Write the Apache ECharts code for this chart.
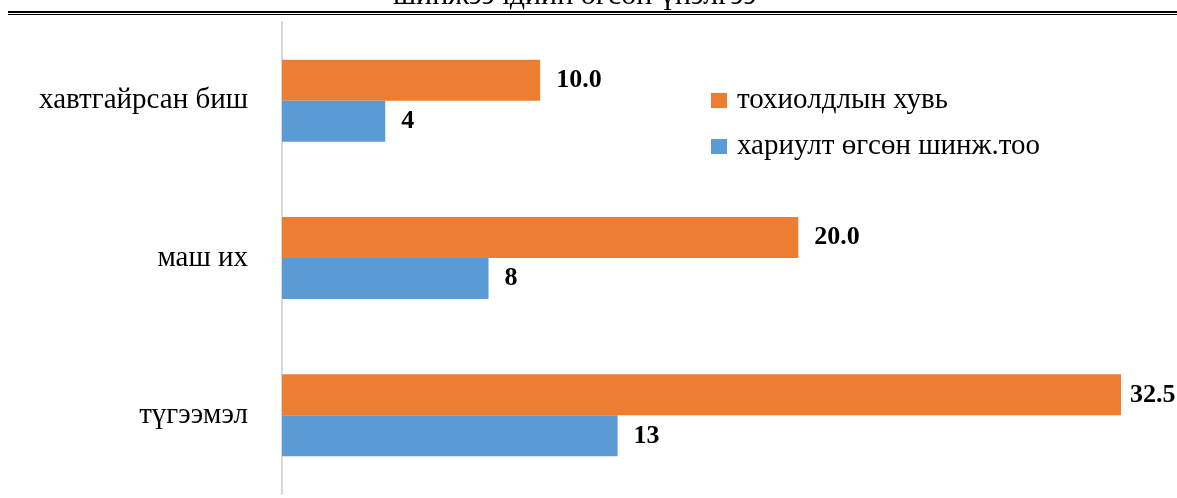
<!DOCTYPE html>
<html>
<head>
<meta charset="utf-8">
<script src="https://cdn.jsdelivr.net/npm/echarts@6/dist/echarts.min.js"></script>
<style>html,body{margin:0;padding:0;background:#fff}#c{width:1177px;height:498px}</style>
</head>
<body>
<div id="c"></div>
<script>
const categories = ['түгээмэл', 'маш их', 'хавтгайрсан биш'];
const seriesNames = ['тохиолдлын хувь', 'хариулт өгсөн шинж.тоо'];
const percentValues = [32.5, 20.0, 10.0];
const countValues = [13, 8, 4];
const titleText = 'шинжээчдийн өгсөн үнэлгээ';

const FONT = '"Liberation Serif", serif';
const chart = echarts.init(document.getElementById('c'), null, {renderer: 'canvas'});
const maxPct = Math.max.apply(null, percentValues);
chart.setOption({
  animation: false,
  backgroundColor: '#fff',
  grid: {left: 282, right: 56, top: 22, bottom: 4, containLabel: false},
  xAxis: {type: 'value', min: 0, max: 32.5, show: false},
  yAxis: {
    type: 'category', data: categories,
    axisLine: {show: true, lineStyle: {color: '#d9d9d9', width: 2}},
    axisTick: {show: false},
    axisLabel: {fontFamily: FONT, fontSize: 29, color: '#000', margin: 34, padding: [5, 0, 0, 0]}
  },
  legend: {
    orient: 'vertical', left: 711, top: 86, padding: 0,
    data: seriesNames,
    icon: 'rect', itemWidth: 16, itemHeight: 15, itemGap: 17,
    textStyle: {fontFamily: FONT, fontSize: 29, color: '#000', padding: [0, 0, 0, 5]}
  },
  graphic: [
    {type: 'rect', shape: {x: 8, y: 11, width: 1169, height: 2}, style: {fill: '#000'}, silent: true},
    {type: 'rect', shape: {x: 8, y: 14, width: 1169, height: 1}, style: {fill: '#000'}, silent: true},
    {type: 'text', x: 393, y: 11, style: {text: titleText, font: '30px ' + FONT, fill: '#000', verticalAlign: 'bottom'}, silent: true}
  ],
  series: [
    {
      name: seriesNames[0], type: 'bar',
      data: percentValues.map(v => v === maxPct ? {value: v, label: {distance: 9}} : v),
      barWidth: 41, barGap: '0%',
      itemStyle: {color: '#ED7D31'},
      label: {show: true, position: 'right', distance: 16, fontFamily: FONT, fontSize: 26, fontWeight: 'bold', color: '#000',
        padding: [3, 0, 0, 0], formatter: p => Number(p.value).toFixed(1)}
    },
    {
      name: seriesNames[1], type: 'bar', data: countValues,
      barWidth: 41, barGap: '0%',
      itemStyle: {color: '#5B9BD5'},
      label: {show: true, position: 'right', distance: 16, fontFamily: FONT, fontSize: 26, fontWeight: 'bold', color: '#000',
        padding: [5, 0, 0, 0]}
    }
  ]
});
</script>
</body>
</html>
